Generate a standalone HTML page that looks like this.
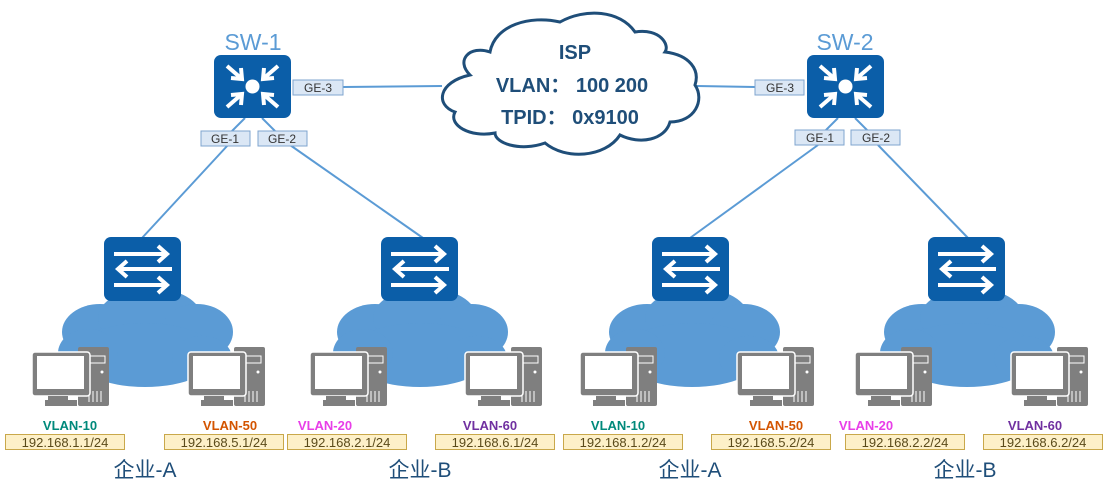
<!DOCTYPE html>
<html><head><meta charset="utf-8"><style>
html,body{margin:0;padding:0;background:#fff;}
svg{display:block;}
text{font-family:"Liberation Sans","Noto Sans CJK SC",sans-serif;}
</style></head><body>
<svg width="1107" height="490" viewBox="0 0 1107 490" xmlns="http://www.w3.org/2000/svg">
<defs>
  <g id="cloud">
    <g fill="#5b9bd5">
      <ellipse cx="45" cy="42" rx="38" ry="28"/>
      <ellipse cx="95" cy="28" rx="52" ry="30"/>
      <ellipse cx="142" cy="42" rx="36" ry="28"/>
      <ellipse cx="90" cy="65" rx="72" ry="32"/>
      <ellipse cx="33" cy="63" rx="30" ry="24"/>
      <ellipse cx="147" cy="68" rx="30" ry="22"/>
    </g>
  </g>
  <g id="sw">
    <rect x="0" y="0" width="77" height="64" rx="7" fill="#0b5ea8"/>
    <g stroke="#fff" stroke-width="4" fill="none">
      <line x1="10" y1="17" x2="62" y2="17"/><polyline points="54,9 63,17 54,25"/>
      <line x1="15" y1="32" x2="68" y2="32"/><polyline points="23,24 14,32 23,40"/>
      <line x1="10" y1="48" x2="62" y2="48"/><polyline points="54,40 63,48 54,56"/>
    </g>
  </g>
  <g id="core">
    <rect x="0" y="0" width="77" height="63" rx="7" fill="#0b5ea8"/>
    <circle cx="38.5" cy="31.5" r="7" fill="#fff"/>
    <g stroke="#fff" stroke-width="4" fill="none">
      <line x1="13" y1="11" x2="28" y2="24"/><polyline points="17,23 28,24 27,13"/>
      <line x1="64" y1="11" x2="49" y2="24"/><polyline points="60,23 49,24 50,13"/>
      <line x1="13" y1="52" x2="28" y2="39"/><polyline points="17,40 28,39 27,50"/>
      <line x1="64" y1="52" x2="49" y2="39"/><polyline points="60,40 49,39 50,50"/>
    </g>
  </g>
  <g id="pc">
    <rect x="46" y="0" width="31" height="59" rx="2" fill="#7f7f7f"/>
    <rect x="50" y="9" width="23" height="7" fill="none" stroke="#fff" stroke-width="1"/>
    <circle cx="70" cy="25" r="1.5" fill="#fff"/>
    <g stroke="#fff" stroke-width="1"><line x1="57" y1="44" x2="57" y2="55"/><line x1="61" y1="44" x2="61" y2="55"/><line x1="65" y1="44" x2="65" y2="55"/><line x1="69" y1="44" x2="69" y2="55"/></g>
    <rect x="0" y="5" width="58" height="44" rx="3" fill="#7f7f7f" stroke="#fff" stroke-width="1.5"/>
    <rect x="5" y="9" width="47" height="33" fill="#fff"/>
    <rect x="16" y="49" width="20" height="4" fill="#7f7f7f"/>
    <rect x="13" y="53" width="32" height="6" fill="#7f7f7f"/>
  </g>
</defs>

<g stroke="#5b9bd5" stroke-width="2" fill="none">
  <line x1="343" y1="87" x2="442" y2="86"/>
  <line x1="697" y1="86" x2="755" y2="87"/>
  <line x1="245" y1="118" x2="232" y2="131"/>
  <line x1="262" y1="118" x2="275" y2="131"/>
  <line x1="228" y1="145" x2="142" y2="238"/>
  <line x1="290" y1="145" x2="423" y2="238"/>
  <line x1="838" y1="118" x2="825" y2="131"/>
  <line x1="855" y1="118" x2="868" y2="131"/>
  <line x1="818" y1="145" x2="690" y2="238"/>
  <line x1="878" y1="145" x2="968" y2="238"/>
</g>

<path d="M470,75 C455,60 470,45 490,52 C495,25 530,15 560,22 C585,8 620,10 635,32 C660,28 670,45 665,52 C690,55 700,70 695,85 C705,100 695,122 670,122 C665,140 640,145 620,135 C605,158 565,160 545,143 C520,152 495,143 495,133 C470,138 448,125 455,112 C435,105 438,82 470,75 Z" fill="#fff" stroke="#1f4e79" stroke-width="3"/>
<g font-weight="bold" fill="#1f4e79" font-size="20" text-anchor="middle">
  <text x="575" y="59">ISP</text>
  <text x="572" y="92">VLAN：  100 200</text>
  <text x="570" y="124">TPID：  0x9100</text>
</g>

<text x="253" y="50" font-size="23" fill="#5b9bd5" text-anchor="middle">SW-1</text>
<use href="#core" x="214" y="55"/>
<text x="845" y="50" font-size="23" fill="#5b9bd5" text-anchor="middle">SW-2</text>
<use href="#core" x="807" y="55"/>

<g fill="#dbe7f5" stroke="#7fa4cf" stroke-width="1">
  <rect x="293" y="80" width="50" height="15"/>
  <rect x="201" y="131" width="49" height="15"/>
  <rect x="258" y="131" width="49" height="15"/>
  <rect x="755" y="80" width="49" height="15"/>
  <rect x="795" y="130" width="49" height="15"/>
  <rect x="851" y="130" width="49" height="15"/>
</g>
<g font-size="12" fill="#333" text-anchor="middle">
  <text x="318" y="92">GE-3</text>
  <text x="225" y="143">GE-1</text>
  <text x="282" y="143">GE-2</text>
  <text x="780" y="92">GE-3</text>
  <text x="820" y="142">GE-1</text>
  <text x="876" y="142">GE-2</text>
</g>

<use href="#cloud" x="55" y="290"/>
<use href="#cloud" x="330" y="290"/>
<use href="#cloud" x="602" y="290"/>
<use href="#cloud" x="877" y="290"/>
<use href="#sw" x="104" y="237"/>
<use href="#sw" x="381" y="237"/>
<use href="#sw" x="652" y="237"/>
<use href="#sw" x="928" y="237"/>

<use href="#pc" x="32" y="347"/>
<use href="#pc" x="188" y="347"/>
<use href="#pc" x="310" y="347"/>
<use href="#pc" x="465" y="347"/>
<use href="#pc" x="580" y="347"/>
<use href="#pc" x="737" y="347"/>
<use href="#pc" x="855" y="347"/>
<use href="#pc" x="1011" y="347"/>

<g font-size="13" font-weight="bold" text-anchor="middle">
  <text x="70" y="430" fill="#00897b">VLAN-10</text>
  <text x="230" y="430" fill="#d35400">VLAN-50</text>
  <text x="325" y="430" fill="#e83ee8">VLAN-20</text>
  <text x="490" y="430" fill="#7030a0">VLAN-60</text>
  <text x="618" y="430" fill="#00897b">VLAN-10</text>
  <text x="776" y="430" fill="#d35400">VLAN-50</text>
  <text x="866" y="430" fill="#e83ee8">VLAN-20</text>
  <text x="1035" y="430" fill="#7030a0">VLAN-60</text>
</g>
<g fill="#fdf0c8" stroke="#c9a84a" stroke-width="1">
  <rect x="5.5" y="434.5" width="119" height="15"/>
  <rect x="164.5" y="434.5" width="119" height="15"/>
  <rect x="287.5" y="434.5" width="119" height="15"/>
  <rect x="435.5" y="434.5" width="119" height="15"/>
  <rect x="563.5" y="434.5" width="119" height="15"/>
  <rect x="711.5" y="434.5" width="119" height="15"/>
  <rect x="845.5" y="434.5" width="119" height="15"/>
  <rect x="983.5" y="434.5" width="119" height="15"/>
</g>
<g font-size="13" fill="#5a4a1a" text-anchor="middle">
  <text x="65" y="447">192.168.1.1/24</text>
  <text x="224" y="447">192.168.5.1/24</text>
  <text x="347" y="447">192.168.2.1/24</text>
  <text x="495" y="447">192.168.6.1/24</text>
  <text x="623" y="447">192.168.1.2/24</text>
  <text x="771" y="447">192.168.5.2/24</text>
  <text x="905" y="447">192.168.2.2/24</text>
  <text x="1043" y="447">192.168.6.2/24</text>
</g>
<g font-size="21" fill="#1f4e79" text-anchor="middle">
  <text x="145" y="477">企业-A</text>
  <text x="420" y="477">企业-B</text>
  <text x="690" y="477">企业-A</text>
  <text x="965" y="477">企业-B</text>
</g>
</svg>
</body></html>
